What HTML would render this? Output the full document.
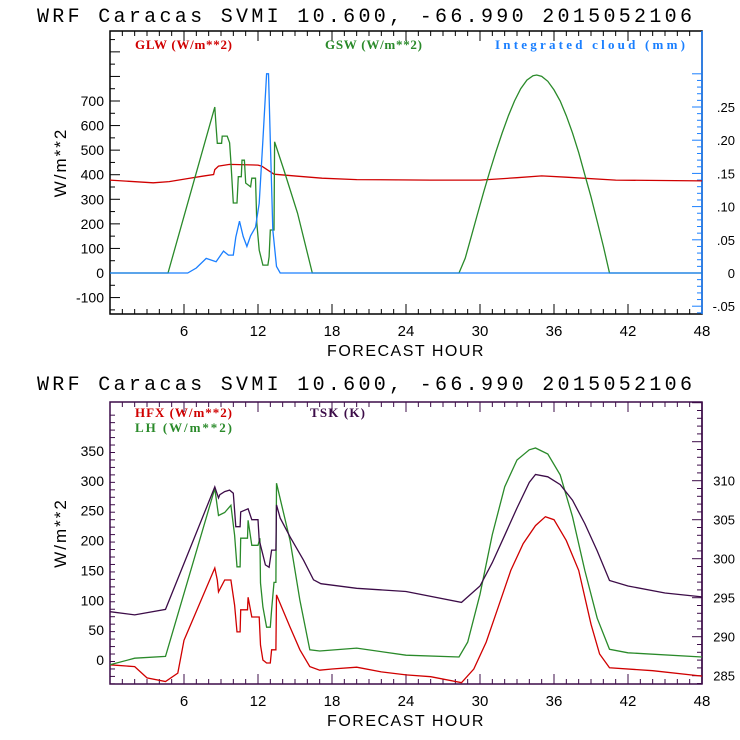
<!DOCTYPE html>
<html><head><meta charset="utf-8"><style>
body{margin:0;background:#fff}
svg{display:block}
text{font-family:"Liberation Sans",sans-serif}
.leg{font-family:"Liberation Serif",serif;font-size:13px;font-weight:bold}
.ttl{font-family:"Liberation Mono",monospace;font-size:20px}
</style></head><body>
<svg id="c" width="740" height="740" xmlns="http://www.w3.org/2000/svg"></svg>
<script>
// ---- top chart data ----
const glwHours=[0,3.5,4.8,6.4,7.5,8.4,8.5,8.8,9.7,12,12.3,13.3,15.2,17.2,20,26,30,33,35,37,41,48];
const glwVals=[378,367,372,385,394,401,421,435,442,439,435,402,394,386,380,378,378,388,395,390,378,375];
const gswHours=[0,4.7,8.5,8.6,8.7,9.05,9.1,9.5,9.7,9.8,10,10.3,10.4,10.65,10.7,10.9,11,11.4,11.5,11.8,11.9,12.1,12.4,12.8,12.9,13.0,13.3,13.35,14.1,15.2,16.4,28.3,28.8,29.3,29.8,30.3,30.8,31.3,31.8,32.3,32.8,33.3,33.8,34.3,34.6,35,35.5,36,36.5,37,37.5,38,38.5,39,39.5,40,40.5,48];
const gswVals=[0,0,675,595,528,528,557,557,530,452,285,285,392,392,459,459,366,351,386,386,203,93,32,32,66,175,175,534,419,244,0,0,60,150,240,330,415,495,570,640,700,750,785,803,806,800,780,745,700,640,570,490,400,310,210,110,0,0];
const cldHours=[0,6.3,7,7.8,8.6,9.2,9.6,10,10.2,10.5,10.8,11.1,11.4,11.8,12.1,12.4,12.7,12.85,13,13.2,13.5,13.8,48];
const cldVals=[0,0,0.0075,0.022,0.017,0.033,0.027,0.027,0.054,0.078,0.055,0.04,0.056,0.069,0.105,0.2,0.30,0.30,0.2,0.065,0.01,0,0];
const topTicksL=[-100,0,100,200,300,400,500,600,700];
const topTicksR=[-0.05,0,0.05,0.10,0.15,0.20,0.25];
const topTicksRLbl=['-.05','0','.05','.10','.15','.20','.25'];
// ---- bottom chart data ----
const hfxHours=[0,2,3,4.5,5.5,6,8.5,8.7,8.8,9.3,9.8,10.1,10.3,10.55,10.6,11.15,11.2,11.5,12.1,12.2,12.4,12.7,13.0,13.1,13.45,13.5,14.6,15.4,16.2,17,18,20,22,24,26,28.5,29.5,30.5,31.5,32.5,33.5,34.5,35.3,36,37,38,39,39.7,40.5,44,48];
const hfxVals=[-8,-11,-30,-36,-22,33,154,134,114,134,134,92,47,47,84,84,105,72,72,25,0,-5,-5,17,17,109,55,17,-11,-17,-15,-12,-20,-25,-28,-38,-15,30,90,150,195,225,240,235,200,150,60,10,-13,-18,-27];
const lhHours=[0,2,4.5,8.5,8.8,9.3,9.8,10.1,10.3,10.55,10.6,11.15,11.2,11.5,12.0,12.15,12.2,12.4,12.7,13.0,13.1,13.3,13.45,13.5,14.6,15.4,16.2,17,20,24,28.3,29,30,31,32,33,34,34.5,35.5,36.5,37.5,38.5,39.5,40.5,42,48];
const lhVals=[-8,3,6,287,242,247,259,209,156,156,204,204,234,192,192,204,129,89,55,55,84,130,130,296,200,100,17,15,20,8,5,30,110,210,290,335,352,355,345,310,240,150,70,18,12,5];
const tskHours=[0,2,4.5,8.5,8.8,8.9,9.3,9.7,10,10.2,10.55,10.6,11.2,11.5,12.0,12.1,12.4,12.6,12.9,13.1,13.45,13.5,13.8,14.6,15.7,16.5,17.1,20,24,28.5,30,31,32,33,34,34.5,35.5,36.5,37.5,38.5,39.5,40.5,42,45,48];
const tskVals=[293.2,292.8,293.5,309.2,307.8,308.2,308.6,308.8,308.4,304.1,304.1,306,306.4,305,305,302.4,300.5,299.2,298.9,301.1,301.1,306.9,305.2,302.8,299.8,297.3,296.8,296.2,295.8,294.4,296.5,299.5,303,306.5,309.8,310.8,310.5,309.5,307.5,304.5,301,297.2,296.5,295.6,295.1];
const hourTicks=[6,12,18,24,30,36,42,48];
const botTicksL=[0,50,100,150,200,250,300,350];
const botTicksR=[285,290,295,300,305,310];

const svg=document.getElementById('c');const NS='http://www.w3.org/2000/svg';
function el(t,a,p){const e=document.createElementNS(NS,t);for(const k in a)e.setAttribute(k,a[k]);(p||svg).appendChild(e);return e;}
const X0=110,X1=702;
function xs(h){return X0+(X1-X0)*h/48;}
function lin(d0,d1,p0,p1){return v=>p0+(v-d0)*(p1-p0)/(d1-d0);}
function path(hs,vs,ys,col,name){let d='';hs.forEach((h,i)=>{d+=(i?'L':'M')+xs(h).toFixed(1)+','+ys(vs[i]).toFixed(1);});
 const p=el('path',{d:d,fill:'none',stroke:col,'stroke-width':1.3});
 
 }
function txt(x,y,s,o){const t=el('text',Object.assign({x:x,y:y},o||{}));t.textContent=s;return t;}

function panel(top,bot,frameCol,rightCol,pre){
 const g=el('g',{});
 
 
 el('rect',{x:X0,y:top,width:X1-X0,height:bot-top,fill:'none',stroke:frameCol,'stroke-width':1.5},g);
 el('line',{x1:X1,y1:top,x2:X1,y2:bot,stroke:rightCol,'stroke-width':1.5},g);
 for(let h=1;h<48;h++){const x=xs(h);const L=h%6==0?10:5;
  el('line',{x1:x,y1:bot,x2:x,y2:bot-L,stroke:frameCol},g);el('line',{x1:x,y1:top,x2:x,y2:top+L,stroke:frameCol},g);}
 hourTicks.forEach(h=>{const t=txt(xs(h),bot+22,h,{'text-anchor':'middle','font-size':15});
  });
 const xt=txt(406,bot+42,'FORECAST HOUR',{'text-anchor':'middle','font-size':16,'letter-spacing':'1.5'});
 
 const cy=(top+bot)/2-10;
 const yt=txt(0,0,'W/m**2',{'text-anchor':'middle','font-size':17,'letter-spacing':'2',transform:'translate(66,'+cy+') rotate(-90)'});
 
 return g;}

function title(y){const t=txt(37,y,'WRF  Caracas SVMI  10.600, -66.990  2015052106',{class:'ttl','textLength':655,'lengthAdjust':'spacing','xml:space':'preserve'});
 }

// ----- TOP -----
title(22);
const T0=31,T1=314;
panel(T0,T1,'#000','#1a7fff','flux-cloud');
const yTL=lin(0,700,273,101);const yTR=lin(0,0.25,273,107);
for(let v=-150;v<=950;v+=50){const y=yTL(v);if(y<T0||y>T1)continue;el('line',{x1:X0,y1:y,x2:X0+(v%100==0?10:5),y2:y,stroke:'#000'});}
topTicksL.forEach(v=>{const t=txt(104,yTL(v)+5,v,{'text-anchor':'end','font-size':14});});
for(let v=-0.06;v<=0.31;v+=0.01){const y=yTR(v);if(y<T0||y>T1)continue;const m=Math.abs(Math.round(v*100)%5)==0;el('line',{x1:X1,y1:y,x2:X1-(m?10:5),y2:y,stroke:'#1a7fff'});}
topTicksR.forEach((v,i)=>{const t=txt(735,yTR(v)+5,topTicksRLbl[i],{'text-anchor':'end','font-size':13});});
path(glwHours,glwVals,yTL,'#d00000','glw-line');
path(gswHours,gswVals,yTL,'#2a8a2a','gsw-line');
path(cldHours,cldVals,yTR,'#1a7fff','cloud-line');
let l=txt(135,49,'GLW (W/m**2)',{class:'leg',fill:'#d00000',textLength:97,lengthAdjust:'spacing'});
l=txt(325,49,'GSW (W/m**2)',{class:'leg',fill:'#2a8a2a',textLength:97,lengthAdjust:'spacing'});
l=txt(495,49,'Integrated cloud (mm)',{class:'leg',fill:'#1a7fff',textLength:190,lengthAdjust:'spacing'});

// ----- BOTTOM -----
title(390);
const B0=402,B1=684;const PUR='#3c0c48';
panel(B0,B1,PUR,PUR,'heat-flux');
const yBL=lin(0,350,660,451);const yBR=lin(285,310,675.7,480.7);
for(let v=-40;v<=420;v+=12.5){const y=yBL(v);if(y<B0||y>B1)continue;el('line',{x1:X0,y1:y,x2:X0+(v%50==0?10:5),y2:y,stroke:PUR});}
botTicksL.forEach(v=>{const t=txt(104,yBL(v)+5,v,{'text-anchor':'end','font-size':14});});
for(let v=284;v<=321;v+=1){const y=yBR(v);if(y<B0||y>B1)continue;el('line',{x1:X1,y1:y,x2:X1-(v%5==0?10:5),y2:y,stroke:PUR});}
botTicksR.forEach(v=>{const t=txt(735,yBR(v)+5,v,{'text-anchor':'end','font-size':13});});
path(hfxHours,hfxVals,yBL,'#d00000','hfx-line');
path(lhHours,lhVals,yBL,'#2a8a2a','lh-line');
path(tskHours,tskVals,yBR,PUR,'tsk-line');
l=txt(135,417,'HFX (W/m**2)',{class:'leg',fill:'#d00000',textLength:97,lengthAdjust:'spacing'});
l=txt(135,432,'LH  (W/m**2)',{class:'leg',fill:'#2a8a2a','xml:space':'preserve',textLength:97,lengthAdjust:'spacing'});
l=txt(310,417,'TSK (K)',{class:'leg',fill:PUR,textLength:55,lengthAdjust:'spacing'});
</script>
</body></html>
